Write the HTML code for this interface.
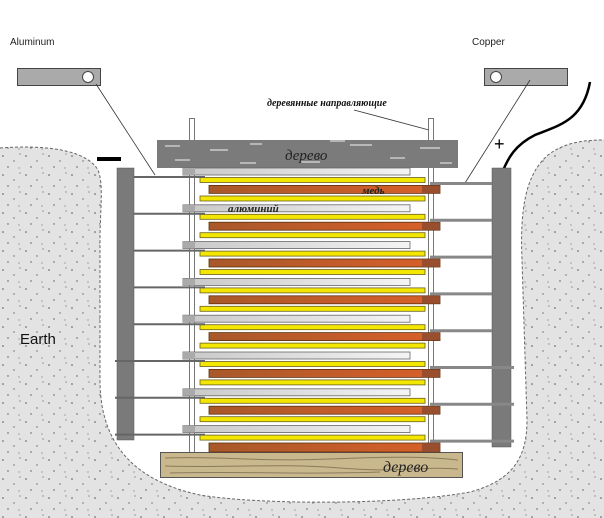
<!DOCTYPE html>
<html><head><meta charset="utf-8"><style>
html,body{margin:0;padding:0;background:#fff}
svg{display:block}
</style></head><body>
<svg width="604" height="518" viewBox="0 0 604 518" xmlns="http://www.w3.org/2000/svg">
<defs>
<pattern id="dots" width="23" height="19" patternUnits="userSpaceOnUse">
<rect width="23" height="19" fill="#e3e3e3"/>
<circle cx="3" cy="4" r="0.8" fill="#555"/><circle cx="14" cy="9" r="0.7" fill="#666"/>
<circle cx="8" cy="15" r="0.7" fill="#555"/><circle cx="19" cy="16" r="0.6" fill="#777"/>
<circle cx="20" cy="2" r="0.6" fill="#666"/>
</pattern>
<linearGradient id="cu" x1="0" x2="1"><stop offset="0" stop-color="#a8582a"/><stop offset="1" stop-color="#d8602a"/></linearGradient>
<linearGradient id="al" x1="0" x2="1"><stop offset="0" stop-color="#c8c8c8"/><stop offset="1" stop-color="#f4f4f4"/></linearGradient>
</defs>
<path d="M0,148 C40,145 85,148 98,170 C104,185 100,210 100,240 L100,380 C100,440 130,480 200,495 C260,505 400,505 470,492 C515,480 527,455 527,420 L522,260 C520,210 525,175 548,155 C565,142 585,140 604,140 L604,518 L0,518 Z" fill="url(#dots)"/>
<path d="M0,148 C40,145 85,148 98,170 C104,185 100,210 100,240 L100,380 C100,440 130,480 200,495 C260,505 400,505 470,492 C515,480 527,455 527,420 L522,260 C520,210 525,175 548,155 C565,142 585,140 604,140" fill="none" stroke="#666" stroke-width="1" stroke-dasharray="3,2"/>
<text x="20" y="344" font-family="Liberation Sans, sans-serif" font-size="15" fill="#111">Earth</text>
<text x="10" y="45" font-family="Liberation Sans, sans-serif" font-size="10" fill="#222">Aluminum</text>
<text x="472" y="45" font-family="Liberation Sans, sans-serif" font-size="10" fill="#222">Copper</text>
<rect x="17.5" y="68.5" width="83" height="17" fill="#aaa" stroke="#444"/>
<circle cx="88" cy="77" r="5.5" fill="#fff" stroke="#444"/>
<rect x="484.5" y="68.5" width="83" height="17" fill="#aaa" stroke="#444"/>
<circle cx="496" cy="77" r="5.5" fill="#fff" stroke="#444"/>
<line x1="96" y1="84" x2="155" y2="175" stroke="#333" stroke-width="0.8"/>
<line x1="530" y1="80" x2="465" y2="183" stroke="#333" stroke-width="0.8"/>
<path d="M590,82 C583,120 560,125 535,135 C515,145 508,158 502,173" fill="none" stroke="#000" stroke-width="2.5"/>
<rect x="97" y="157" width="24" height="4" fill="#000"/>
<text x="494" y="150" font-family="Liberation Sans, sans-serif" font-size="18" fill="#000">+</text>
<text x="267" y="106" font-family="Liberation Serif, serif" font-size="10" font-style="italic" font-weight="bold" fill="#111">деревянные направляющие</text>
<line x1="354" y1="110" x2="429" y2="130" stroke="#333" stroke-width="0.8"/>
<rect x="189.5" y="118.5" width="5" height="334" fill="#fff" stroke="#555" stroke-width="0.8"/>
<rect x="428.5" y="118.5" width="5" height="334" fill="#fff" stroke="#555" stroke-width="0.8"/>
<rect x="157" y="140" width="301" height="28" fill="#7b7b7b"/>
<g stroke="#ddd" stroke-width="1.2">
<line x1="165" y1="146" x2="180" y2="146"/><line x1="210" y1="150" x2="228" y2="150"/><line x1="250" y1="144" x2="262" y2="144"/>
<line x1="300" y1="162" x2="320" y2="162"/><line x1="350" y1="145" x2="372" y2="145"/><line x1="390" y1="158" x2="405" y2="158"/>
<line x1="420" y1="148" x2="440" y2="148"/><line x1="175" y1="160" x2="190" y2="160"/><line x1="240" y1="163" x2="256" y2="163"/>
<line x1="440" y1="163" x2="452" y2="163"/><line x1="330" y1="141" x2="345" y2="141"/>
</g>
<text x="285" y="160" font-family="Liberation Serif, serif" font-size="15" font-style="italic" fill="#222">дерево</text>
<rect x="160.5" y="452.5" width="302" height="25" fill="#c9b78e" stroke="#555"/>
<g stroke="#8a7b5a" stroke-width="1" fill="none">
<path d="M165,458 C220,456 260,462 330,459 S430,457 458,460"/><path d="M165,466 C230,468 280,463 340,468 S420,466 458,469"/><path d="M170,473 C240,471 300,475 380,472"/>
</g>
<text x="383" y="472" font-family="Liberation Serif, serif" font-size="16" font-style="italic" fill="#222">дерево</text>
<rect x="117" y="168" width="17" height="272" fill="#7a7a7a" stroke="#555" stroke-width="0.5"/>
<rect x="492" y="168" width="19" height="279" fill="#7a7a7a" stroke="#555" stroke-width="0.5"/>
<g>
<g fill="url(#al)" stroke="#666" stroke-width="0.8">
<rect x="183" y="168" width="227" height="7"/><rect x="183" y="204.8" width="227" height="7"/><rect x="183" y="241.6" width="227" height="7"/><rect x="183" y="278.4" width="227" height="7"/><rect x="183" y="315.2" width="227" height="7"/><rect x="183" y="352" width="227" height="7"/><rect x="183" y="388.8" width="227" height="7"/><rect x="183" y="425.6" width="227" height="7"/>
</g>
<g fill="#aaa">
<rect x="183" y="168" width="12" height="7"/><rect x="183" y="204.8" width="12" height="7"/><rect x="183" y="241.6" width="12" height="7"/><rect x="183" y="278.4" width="12" height="7"/><rect x="183" y="315.2" width="12" height="7"/><rect x="183" y="352" width="12" height="7"/><rect x="183" y="388.8" width="12" height="7"/><rect x="183" y="425.6" width="12" height="7"/>
</g>
<g fill="#f3e600" stroke="#6a6020" stroke-width="0.8">
<rect x="200" y="177.5" width="225" height="5"/><rect x="200" y="196" width="225" height="5"/><rect x="200" y="214.3" width="225" height="5"/><rect x="200" y="232.7" width="225" height="5"/><rect x="200" y="251.1" width="225" height="5"/><rect x="200" y="269.5" width="225" height="5"/><rect x="200" y="287.9" width="225" height="5"/><rect x="200" y="306.3" width="225" height="5"/><rect x="200" y="324.7" width="225" height="5"/><rect x="200" y="343.1" width="225" height="5"/><rect x="200" y="361.5" width="225" height="5"/><rect x="200" y="379.9" width="225" height="5"/><rect x="200" y="398.3" width="225" height="5"/><rect x="200" y="416.7" width="225" height="5"/><rect x="200" y="435.1" width="225" height="5"/>
</g>
<g fill="url(#cu)" stroke="#5a3010" stroke-width="0.8">
<rect x="209" y="185.4" width="231" height="8"/><rect x="209" y="222.2" width="231" height="8"/><rect x="209" y="259" width="231" height="8"/><rect x="209" y="295.8" width="231" height="8"/><rect x="209" y="332.6" width="231" height="8"/><rect x="209" y="369.4" width="231" height="8"/><rect x="209" y="406.2" width="231" height="8"/><rect x="209" y="443" width="231" height="9"/>
</g>
<g fill="#8a4a30" opacity="0.8">
<rect x="422" y="185.4" width="18" height="8"/><rect x="422" y="222.2" width="18" height="8"/><rect x="422" y="259" width="18" height="8"/><rect x="422" y="295.8" width="18" height="8"/><rect x="422" y="332.6" width="18" height="8"/><rect x="422" y="369.4" width="18" height="8"/><rect x="422" y="406.2" width="18" height="8"/><rect x="422" y="443" width="18" height="9"/>
</g>
</g>
<g stroke="#666" stroke-width="2">
<line x1="134" y1="177" x2="205" y2="177"/><line x1="134" y1="213.8" x2="205" y2="213.8"/><line x1="134" y1="250.6" x2="205" y2="250.6"/><line x1="134" y1="287.4" x2="205" y2="287.4"/><line x1="134" y1="324.2" x2="205" y2="324.2"/><line x1="115" y1="361" x2="205" y2="361"/><line x1="115" y1="397.8" x2="205" y2="397.8"/><line x1="115" y1="434.6" x2="205" y2="434.6"/>
</g>
<g stroke="#888" stroke-width="3">
<line x1="430" y1="183.5" x2="492" y2="183.5"/><line x1="430" y1="220.3" x2="492" y2="220.3"/><line x1="430" y1="257.1" x2="492" y2="257.1"/><line x1="430" y1="293.9" x2="492" y2="293.9"/><line x1="430" y1="330.7" x2="492" y2="330.7"/><line x1="430" y1="367.5" x2="514" y2="367.5"/><line x1="430" y1="404.3" x2="514" y2="404.3"/><line x1="430" y1="441.1" x2="514" y2="441.1"/>
</g>
<text x="362" y="194" font-family="Liberation Serif, serif" font-size="11" font-style="italic" font-weight="bold" fill="#222">медь</text>
<text x="228" y="212" font-family="Liberation Serif, serif" font-size="11" font-style="italic" font-weight="bold" fill="#222">алюминий</text>
</svg>
</body></html>
